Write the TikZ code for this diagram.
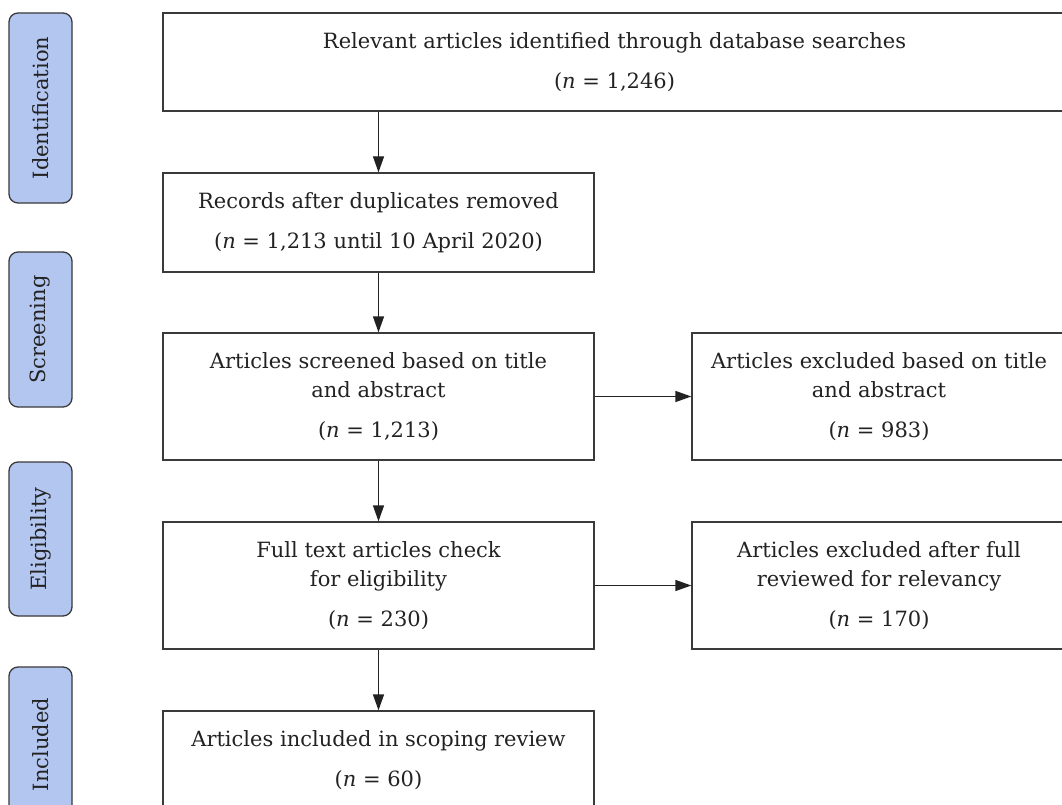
\documentclass[tikz,border=0pt]{standalone}
\usepackage{fontspec}
\setmainfont{DejaVu Serif}
\usetikzlibrary{arrows.meta}
\definecolor{phasefill}{HTML}{B3C6F0}
\definecolor{linegray}{HTML}{3A3A3A}
\definecolor{textgray}{HTML}{222222}
\begin{document}
\begin{tikzpicture}[x=1pt, y=-1pt, >={Triangle[length=16pt,width=11pt]},
		stagebox/.style={draw=linegray, line width=1.3pt, inner sep=0pt, align=center, text=textgray, font=\fontsize{21}{29}\selectfont},
		phase/.style={draw=linegray, fill=phasefill, line width=1.3pt, rounded corners=9pt, inner sep=0pt, rotate=90, minimum height=63pt, text=textgray, font=\fontsize{21}{26}\selectfont},
		flow/.style={->, draw=textgray, line width=1.3pt}]
	\clip (0,0) rectangle (1062,805);
	\fill[white] (0,0) rectangle (1062,805);

	% phases on the left
	\node[phase, minimum width=190pt] (ident) at (40.5,108) {Identification};
	\node[phase, minimum width=155pt] (screen) at (40.5,329.5) {Screening};
	\node[phase, minimum width=154pt] (elig) at (40.5,539) {Eligibility};
	\node[phase, minimum width=155pt] (incl) at (40.5,744.5) {Included};

	% main column
	\node[stagebox, minimum width=903pt, minimum height=98pt] (found) at (614.5,62)
		{Relevant articles identified through database searches\\[11pt] (\textit{n} = 1,246)};
	\node[stagebox, minimum width=431pt, minimum height=99pt] (records) at (378.5,222.5)
		{Records after duplicates removed\\[11pt] (\textit{n} = 1,213 until 10 April 2020)};
	\node[stagebox, minimum width=431pt, minimum height=127pt] (screened) at (378.5,396.5)
		{Articles screened based on title\\ and abstract\\[11pt] (\textit{n} = 1,213)};
	\node[stagebox, minimum width=431pt, minimum height=127pt] (fulltext) at (378.5,585.5)
		{Full text articles check\\ for eligibility\\[11pt] (\textit{n} = 230)};
	\node[stagebox, minimum width=431pt, minimum height=99pt] (included) at (378.5,760.5)
		{Articles included in scoping review\\[11pt] (\textit{n} = 60)};

	% exclusions on the right
	\node[stagebox, minimum width=374pt, minimum height=127pt] (exclabs) at (879,396.5)
		{Articles excluded based on title\\ and abstract\\[11pt] (\textit{n} = 983)};
	\node[stagebox, minimum width=374pt, minimum height=127pt] (exclfull) at (879,585.5)
		{Articles excluded after full\\ reviewed for relevancy\\[11pt] (\textit{n} = 170)};

	\draw[flow] (records.north |- found.south) -- (records.north);
	\draw[flow] (records) -- (screened);
	\draw[flow] (screened) -- (fulltext);
	\draw[flow] (fulltext) -- (included);
	\draw[flow] (screened) -- (exclabs);
	\draw[flow] (fulltext) -- (exclfull);
\end{tikzpicture}
\end{document}
